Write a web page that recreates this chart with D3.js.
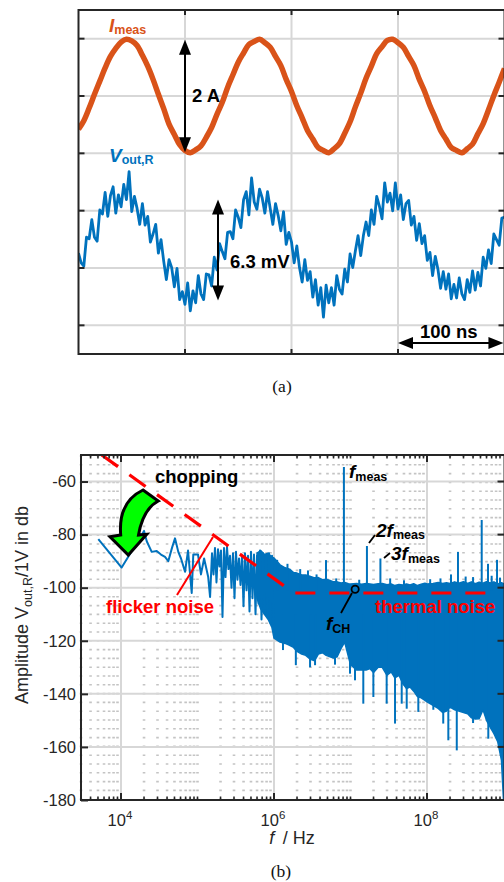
<!DOCTYPE html>
<html><head><meta charset="utf-8">
<script src="https://cdn.jsdelivr.net/npm/d3@7"></script>
<style>
body{margin:0;background:#fff}
svg{display:block}
</style>
</head><body>
<svg id="c" width="504" height="882"></svg>
<script>
// ---------------- DATA ----------------
// Panel (a): time-domain, sample step in ns
const imeasStepNs = 5;
const imeasA = [-0.58,-0.43,-0.21,0.03,0.26,0.49,0.69,0.83,0.94,0.99,
 0.96,0.88,0.71,0.52,0.29,0.03,-0.22,-0.49,-0.67,-0.85,
 -0.95,-0.99,-0.94,-0.87,-0.72,-0.55,-0.32,-0.11,0.15,0.37,
 0.59,0.75,0.90,0.95,0.99,0.93,0.85,0.69,0.53,0.29,
 0.08,-0.17,-0.38,-0.60,-0.75,-0.90,-0.95,-0.99,-0.92,-0.83,
 -0.65,-0.45,-0.19,0.05,0.31,0.52,0.74,0.86,0.97,0.99,
 0.93,0.85,0.69,0.53,0.29,0.08,-0.17,-0.38,-0.60,-0.75,
 -0.90,-0.95,-0.99,-0.92,-0.84,-0.66,-0.48,-0.24,0.01,0.24,0.48];
const voutStepNs = 2.5;
const voutMv = [-0.2,-0.8,-1.0,0.8,0.7,1.9,0.8,0.55,2.5,2.25,
 3.6,2.1,3.4,3.95,2.3,3.45,2.7,4.1,3.15,4.9,
 2.4,3.35,2.6,1.6,2.9,1.55,2.1,0.5,1.0,1.6,
 -0.2,0.65,-0.7,-1.85,-0.6,-1.1,-2.3,-1.15,-3.1,-2.6,
 -3.4,-2.05,-3.8,-2.55,-3.3,-1.6,-2.75,-3.1,-1.5,-1.55,
 -2.25,-0.45,-1.25,0.4,-0.1,-0.55,1.1,1.15,0.7,2.5,
 2.05,1.4,3.15,3.65,2.2,4.5,3.0,2.55,3.8,3.25,
 2.3,3.65,2.6,1.6,2.9,2.15,1.2,2.4,0.35,1.1,
 0.5,-0.8,0.25,-1.1,-2.0,-0.6,-1.9,-1.35,-2.95,-1.85,
 -3.45,-2.35,-4.2,-2.2,-3.3,-2.35,-3.45,-1.6,-2.45,-2.75,
 -1.2,-2.0,-0.25,-1.1,-0.05,0.9,-0.35,0.9,1.75,0.9,
 2.5,1.6,3.35,2.75,1.95,4.2,3.0,3.55,2.45,4.2,
 2.55,3.45,1.9,2.9,3.1,1.55,2.1,0.6,1.65,0.4,
 0.9,-0.65,-0.15,-1.6,-0.4,-1.2,-2.4,-1.35,-2.45,-1.5,
 -3.05,-2.15,-3.0,-1.75,-2.75,-3.1,-1.85,-2.65,-1.3,-2.5,
 -1.4,-2.25,-0.45,-1.15,0.0,-0.85,1.0,0.65,0.3,2.0,2.05];
const timeGridNs = [100,200,300];
const ampGridA = [-4,-3,-2,-1,0,1];

// Panel (b): spectrum
const specLineHz = [5050,10200,20000,21700,25200,29300,33300,37600,41500,46400,
 50800,56100,60900,68700,75200,84000,88100,101500,111000,122000,
 138000,146000,154700,161900,169300,177100,185300,193900,202800,212200,
 222000,232300,243000,254200,266000,278300,291100,304600,318600,333400,
 348700,364900,381700,399400,417800,437100,457300,478400,500500,523600,
 547800,573100,599600,627000,656000,686600,718000,751000,786000,822000,
 860000,900000,942000,985000];
const specLineDb = [-81.7,-92.4,-78.6,-82.5,-86.5,-86.2,-87.5,-88.4,-90,-85,
 -81.4,-86.5,-89,-94,-86,-102,-87.5,-87.5,-95,-89,
 -96,-103.5,-87,-95,-85,-98,-85.5,-92,-86,-111,
 -85,-96,-84.6,-93,-88,-100,-87,-104,-86.5,-97,
 -89,-99,-88,-107,-87,-101,-88,-109,-86.5,-104,
 -87.5,-110,-88,-106,-86,-112,-87,-108,-88,-110,
 -87,-113,-88,-114];
const bandHz = [6e5,6.7e5,7.5e5,8.4e5,9.4e5,
 1e6,1.2e6,1.4e6,1.6e6,1.8e6,2e6,2.3e6,2.6e6,3e6,3.4e6,3.8e6,4.3e6,4.8e6,5.4e6,6e6,6.7e6,7.5e6,8.4e6,9.4e6,
 1e7,1.2e7,1.4e7,1.6e7,1.8e7,2e7,2.3e7,2.6e7,3e7,3.4e7,3.8e7,4.3e7,4.8e7,5.4e7,6e7,6.7e7,7.5e7,8.4e7,9.4e7,
 1e8,1.2e8,1.4e8,1.6e8,1.8e8,2e8,2.3e8,2.6e8,3e8,3.4e8,3.8e8,4.3e8,4.8e8,5.4e8,6e8,6.7e8,7.5e8,8.4e8,9.4e8,1e9];
const bandHiDb = [-87,-86,-87.5,-87,-88.5,
 -88.8,-91.4,-92.5,-93,-94.3,-94.5,-95.2,-95.2,-95.8,-96.3,-96.2,-97,-96.8,-97.3,-97.8,-97.8,-98.2,-98,-98.5,
 -98.6,-98.4,-98.7,-98.4,-98.6,-98.8,-98.5,-98.4,-98.9,-98.6,-99.2,-98.8,-99,-98.6,-99,-98.5,-99.2,-98.7,-98.3,
 -98.6,-98.4,-98,-98.4,-98.1,-98.4,-97.8,-98.3,-97.7,-98.4,-97.8,-98.5,-97.9,-98.3,-97.7,-98.2,-97.8,-98.6,-98.1,-98.5];
const bandLoDb = [-104,-108,-110,-112,-115,
 -119,-120.5,-121,-121.7,-122.5,-124,-125,-125.5,-127,-127.5,-125,-124.5,-125.5,-126,-126.5,-126,-123,-120.5,-126,
 -129,-131,-131,-131,-130.5,-132,-130,-130,-133,-131.7,-134,-133,-136,-138,-137.4,-139,-141,-141.5,-142.5,
 -143,-144.3,-145.5,-147,-146.5,-145,-146,-146.5,-147,-147.5,-149,-149.5,-149.4,-146,-150,-152.5,-155,-158,-165,-180];
const peakHz = [1.1e6,1.5e6,2.2e6,2.78e6,3.6e6,4.78e6,6.5e6,8.2e6,1.3e7,1.64e7,2.46e7,3.3e7,5e7,1.1e8,1.5e8,2.06e8,2.54e8,3.2e8,4e8,5.19e8,6.27e8,7e8,8.23e8,9e8];
const peakDb = [-89.5,-91,-93,-93.5,-95,-89.6,-96.5,-54.5,-97,-84.3,-89,-96.5,-97.2,-96.8,-96.5,-95,-86.5,-95.8,-96,-74.5,-91,-95.5,-89.5,-96.2];
const dipHz = [1.31e6,1.93e6,2.96e6,3.44e6,6.27e6,9.85e6,1.145e7,1.47e7,1.99e7,2.97e7,3.82e7,4.67e7,5.43e7,7.7e7,1.21e8,1.63e8,1.9e8,2.45e8,4e8,6.33e8];
const dipDb = [-123.5,-129.2,-130,-129.2,-129,-132.4,-134.9,-143.7,-141.2,-143.7,-151.2,-143.7,-145.6,-146.8,-146,-151.2,-157.5,-161.3,-151,-156.9];
const noiseFloorHz = [5.6e3,1.83e6,7.3e8];
const noiseFloorDb = [-50,-102,-102];
const dbTicks = [-180,-160,-140,-120,-100,-80,-60];
const freqLabelTicks = [1e4,1e6,1e8];
const freqLabelExp = ["4","6","8"];

// ---------------- DRAW ----------------
const SANS = '"Liberation Sans",Arial,Helvetica,sans-serif';
const SERIF = '"Liberation Serif","Times New Roman",Times,serif';
const svg = d3.select('#c').style('font-family', SANS);
const dark = '#262626', grid = '#d7d7d7';
const cI = '#D95319', cV = '#0072BD', red = '#FF0000';

function arrowHead(g, x, y, ang, len, hw) {
  const c = Math.cos(ang), s = Math.sin(ang);
  const bx = x - c*len, by = y - s*len;
  g.append('path').attr('d',
    `M${x},${y}L${bx - s*hw},${by + c*hw}L${bx + s*hw},${by - c*hw}Z`).attr('fill','#000');
}
function dblArrow(g, x1, y1, x2, y2) {
  const ang = Math.atan2(y2-y1, x2-x1);
  g.append('line').attr('x1',x1+Math.cos(ang)*8).attr('y1',y1+Math.sin(ang)*8)
   .attr('x2',x2-Math.cos(ang)*8).attr('y2',y2-Math.sin(ang)*8)
   .attr('stroke','#000').attr('stroke-width',2);
  arrowHead(g, x2, y2, ang, 15, 6);
  arrowHead(g, x1, y1, ang+Math.PI, 15, 6);
}
function subLabel(g, x, y, main, sub, color, italicMain, mainSize, subSize) {
  const t = g.append('text').attr('x',x).attr('y',y).attr('fill',color)
    .attr('font-weight','bold').attr('font-size',mainSize);
  t.append('tspan').text(main).attr('font-style', italicMain ? 'italic' : 'normal');
  t.append('tspan').text(sub).attr('font-size',subSize).attr('dy',2.5);
  return t;
}

// ===== Panel (a) =====
const A = {l:78.5, r:504.5, t:10, b:354};
const xT = d3.scaleLinear().domain([0,400]).range([A.l, A.r]);
const yI = d3.scaleLinear().domain([-4.5,1.5]).range([A.b, A.t]);
const yV = d3.scaleLinear().domain([-6.5,15]).range([A.b, A.t]);
const gA = svg.append('g');
svg.append('clipPath').attr('id','clipA').append('rect')
  .attr('x',A.l).attr('y',A.t).attr('width',A.r-A.l).attr('height',A.b-A.t);

gA.selectAll('.gxa').data(timeGridNs).enter().append('line')
  .attr('x1',d=>xT(d)).attr('x2',d=>xT(d)).attr('y1',A.t).attr('y2',A.b)
  .attr('stroke',grid).attr('stroke-width',2);
gA.selectAll('.gya').data(ampGridA).enter().append('line')
  .attr('x1',A.l).attr('x2',A.r).attr('y1',d=>yI(d)).attr('y2',d=>yI(d))
  .attr('stroke',grid).attr('stroke-width',2);

const dA = gA.append('g').attr('clip-path','url(#clipA)');
dA.append('path').datum(imeasA)
  .attr('d', d3.line().x((d,i)=>xT(i*imeasStepNs)).y(d=>yI(d)).curve(d3.curveCatmullRom))
  .attr('fill','none').attr('stroke',cI).attr('stroke-width',5.5).attr('stroke-linejoin','round');
dA.append('path').datum(voutMv)
  .attr('d', d3.line().x((d,i)=>xT(i*voutStepNs)).y(d=>yV(d)))
  .attr('fill','none').attr('stroke',cV).attr('stroke-width',2.8).attr('stroke-linejoin','round');

gA.append('rect').attr('x',A.l).attr('y',A.t).attr('width',A.r-A.l).attr('height',A.b-A.t)
  .attr('fill','none').attr('stroke',dark).attr('stroke-width',2);
timeGridNs.forEach(d=>{
  gA.append('line').attr('x1',xT(d)).attr('x2',xT(d)).attr('y1',A.t).attr('y2',A.t+5).attr('stroke',dark).attr('stroke-width',2);
  gA.append('line').attr('x1',xT(d)).attr('x2',xT(d)).attr('y1',A.b).attr('y2',A.b-5).attr('stroke',dark).attr('stroke-width',2);
});
ampGridA.forEach(d=>{
  gA.append('line').attr('x1',A.l).attr('x2',A.l+6).attr('y1',yI(d)).attr('y2',yI(d)).attr('stroke',dark).attr('stroke-width',2);
  gA.append('line').attr('x1',A.r).attr('x2',A.r-6).attr('y1',yI(d)).attr('y2',yI(d)).attr('stroke',dark).attr('stroke-width',2);
});

subLabel(gA, 109, 31.5, 'I', 'meas', cI, true, 19, 12.5);
subLabel(gA, 109, 161.5, 'V', 'out,R', cV, true, 19, 12.5);
dblArrow(gA, xT(100), yI(0.98), xT(100), yI(-0.98));
gA.append('text').attr('x',192).attr('y',101.5).attr('font-weight','bold').attr('font-size',18.5).text('2 A');
dblArrow(gA, xT(131), yV(3.15), xT(131), yV(-3.15));
gA.append('text').attr('x',230).attr('y',268).attr('font-weight','bold').attr('font-size',18.5).text('6.3 mV');
dblArrow(gA, xT(300), 343, xT(399), 343);
gA.append('text').attr('x',420).attr('y',338).attr('font-weight','bold').attr('font-size',18.5).text('100 ns');

svg.append('text').attr('x',282).attr('y',392).attr('text-anchor','middle')
  .style('font-family',SERIF).attr('font-size',17.5).attr('fill','#111').text('(a)');

// ===== Panel (b) =====
const B = {l:81, r:504.5, t:455, b:800};
const xB = d3.scaleLog().domain([3e3,1e9]).range([B.l, 503.5]);
const yB = d3.scaleLinear().domain([-180,-50]).range([B.b, B.t]);
svg.append('clipPath').attr('id','clipB').append('rect')
  .attr('x',B.l).attr('y',B.t).attr('width',B.r-B.l).attr('height',B.b-B.t);
const gB = svg.append('g');

const minorHz = [];
for (let k=3;k<=8;k++) for (let m=1;m<=9;m++) {
  const v = m*Math.pow(10,k);
  if (v>=3e3 && v<=1e9 && freqLabelTicks.indexOf(v)<0) minorHz.push(v);
}
gB.selectAll('.mgx').data(minorHz).enter().append('line')
  .attr('x1',d=>xB(d)).attr('x2',d=>xB(d)).attr('y1',B.b).attr('y2',B.t)
  .attr('stroke','#c4c4c4').attr('stroke-width',2.6).attr('stroke-dasharray','1.6,7.2');
gB.selectAll('.gxb').data(freqLabelTicks).enter().append('line')
  .attr('x1',d=>xB(d)).attr('x2',d=>xB(d)).attr('y1',B.t).attr('y2',B.b)
  .attr('stroke',grid).attr('stroke-width',2);
gB.selectAll('.gyb').data(dbTicks).enter().append('line')
  .attr('x1',B.l).attr('x2',B.r).attr('y1',d=>yB(d)).attr('y2',d=>yB(d))
  .attr('stroke',grid).attr('stroke-width',2);

const dB = gB.append('g').attr('clip-path','url(#clipB)');
const bandData = bandHz.map((f,i)=>({f, hi:bandHiDb[i], lo:bandLoDb[i]}));
dB.append('path').datum(bandData)
  .attr('d', d3.area().x(d=>xB(d.f)).y0(d=>yB(d.lo)).y1(d=>yB(d.hi)))
  .attr('fill',cV).attr('stroke',cV).attr('stroke-width',1.5).attr('stroke-linejoin','round');
dB.append('path').datum(specLineHz.map((f,i)=>[f,specLineDb[i]]))
  .attr('d', d3.line().x(d=>xB(d[0])).y(d=>yB(d[1])))
  .attr('fill','none').attr('stroke',cV).attr('stroke-width',2).attr('stroke-linejoin','round');
dB.selectAll('.pk').data(peakHz).enter().append('line')
  .attr('x1',d=>xB(d)).attr('x2',d=>xB(d)).attr('y1',yB(-101)).attr('y2',(d,i)=>yB(peakDb[i]))
  .attr('stroke',cV).attr('stroke-width',2);
dB.selectAll('.dp').data(dipHz).enter().append('line')
  .attr('x1',d=>xB(d)).attr('x2',d=>xB(d)).attr('y1',yB(-110)).attr('y2',(d,i)=>yB(dipDb[i]))
  .attr('stroke',cV).attr('stroke-width',2);
dB.append('path').datum(noiseFloorHz.map((f,i)=>[f,noiseFloorDb[i]]))
  .attr('d', d3.line().x(d=>xB(d[0])).y(d=>yB(d[1])))
  .attr('fill','none').attr('stroke',red).attr('stroke-width',3.2).attr('stroke-dasharray','20,14');

gB.append('rect').attr('x',B.l).attr('y',B.t).attr('width',B.r-B.l).attr('height',B.b-B.t)
  .attr('fill','none').attr('stroke',dark).attr('stroke-width',2);
const yAxis = d3.axisLeft(yB).tickValues(dbTicks).tickSize(-7).tickPadding(5).tickFormat(d3.format('d'));
const gy = gB.append('g').attr('transform',`translate(${B.l},0)`).call(yAxis);
gy.select('.domain').remove();
gy.selectAll('line').attr('stroke',dark).attr('stroke-width',2);
gy.selectAll('text').attr('font-size',16.5).attr('fill',dark).style('font-family',SANS)
  .text(d=>String(d));
dbTicks.forEach(d=>{
  gB.append('line').attr('x1',B.r).attr('x2',B.r-7).attr('y1',yB(d)).attr('y2',yB(d)).attr('stroke',dark).attr('stroke-width',2);
});
minorHz.forEach(d=>{
  gB.append('line').attr('x1',xB(d)).attr('x2',xB(d)).attr('y1',B.b).attr('y2',B.b-3.5).attr('stroke',dark).attr('stroke-width',1.6);
  gB.append('line').attr('x1',xB(d)).attr('x2',xB(d)).attr('y1',B.t).attr('y2',B.t+3.5).attr('stroke',dark).attr('stroke-width',1.6);
});
freqLabelTicks.forEach((d,i)=>{
  gB.append('line').attr('x1',xB(d)).attr('x2',xB(d)).attr('y1',B.b).attr('y2',B.b-7).attr('stroke',dark).attr('stroke-width',2);
  gB.append('line').attr('x1',xB(d)).attr('x2',xB(d)).attr('y1',B.t).attr('y2',B.t+7).attr('stroke',dark).attr('stroke-width',2);
  const t = gB.append('text').attr('x',xB(d)-1).attr('y',826).attr('text-anchor','middle')
    .attr('font-size',16.5).attr('fill',dark);
  t.append('tspan').text('10');
  t.append('tspan').text(freqLabelExp[i]).attr('font-size',11.5).attr('dy',-7);
});
const xl = gB.append('text').attr('x',292).attr('y',844).attr('text-anchor','middle').attr('font-size',18).attr('fill',dark);
xl.append('tspan').text('f').attr('font-style','italic');
xl.append('tspan').text('\u2009 / Hz');
const yl = gB.append('text').attr('transform','translate(28,605) rotate(-90)').attr('text-anchor','middle')
  .attr('font-size',18).attr('fill',dark);
yl.append('tspan').text('Amplitude V');
yl.append('tspan').text('out,R').attr('font-size',12.5).attr('dy',4);
yl.append('tspan').text('/1V in db').attr('dy',-4);

gB.append('path').attr('d','M143,490 L158.3,501 Q143,509 138.5,535 L146.7,534.3 L128.3,555 L110,536.7 L120.7,535 Q118,502 143,490 Z')
  .attr('fill','#00FF00').attr('stroke','#000').attr('stroke-width',3).attr('stroke-linejoin','miter');
gB.append('text').attr('x',155).attr('y',483).attr('font-weight','bold').attr('font-size',18.5).attr('fill','#000').text('chopping');
gB.append('line').attr('x1',177).attr('y1',595).attr('x2',213).attr('y2',537).attr('stroke',red).attr('stroke-width',2);
gB.append('text').attr('x',106).attr('y',613).attr('font-weight','bold').attr('font-size',18.5).attr('fill',red).text('flicker noise');
gB.append('text').attr('x',375).attr('y',613).attr('font-weight','bold').attr('font-size',18.5).attr('fill',red).text('thermal noise');

subLabel(gB, 349, 478, 'f', 'meas', '#000', true, 19, 12.5);
subLabel(gB, 376, 536.5, '2f', 'meas', '#000', true, 19, 12.5);
subLabel(gB, 391, 560, '3f', 'meas', '#000', true, 19, 12.5);
gB.append('line').attr('x1',369).attr('y1',543).attr('x2',375).attr('y2',535).attr('stroke','#000').attr('stroke-width',1.8);
gB.append('line').attr('x1',384).attr('y1',558).attr('x2',390).attr('y2',553).attr('stroke','#000').attr('stroke-width',1.8);
gB.append('circle').attr('cx',xB(1.15e7)).attr('cy',yB(-100.6)).attr('r',3.6).attr('fill','none').attr('stroke','#000').attr('stroke-width',1.8);
gB.append('line').attr('x1',341).attr('y1',613).attr('x2',352).attr('y2',593).attr('stroke','#000').attr('stroke-width',1.8);
subLabel(gB, 326, 630, 'f', 'CH', '#000', true, 19, 12.5);

svg.append('text').attr('x',281).attr('y',877).attr('text-anchor','middle')
  .style('font-family',SERIF).attr('font-size',17.5).attr('fill','#111').text('(b)');
</script>
</body></html>
